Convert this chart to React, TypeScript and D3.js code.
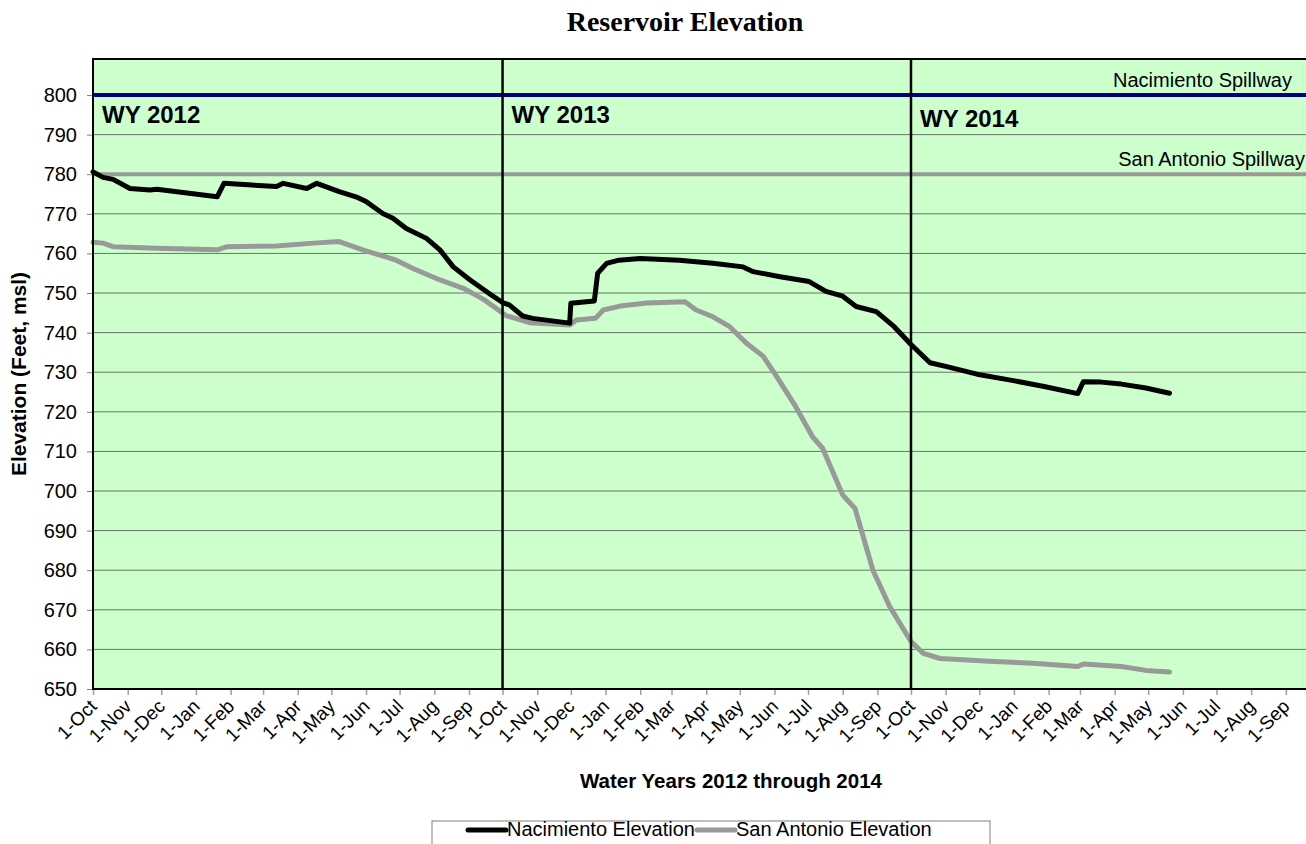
import * as d3 from "d3";
import { useEffect, useRef } from "react";

const nacDates = [
  "2011-10-01", "2011-10-10", "2011-10-19", "2011-11-03", "2011-11-21", "2011-11-27",
  "2012-01-20", "2012-01-26", "2012-03-13", "2012-03-19", "2012-04-09", "2012-04-18",
  "2012-05-08", "2012-05-23", "2012-06-01", "2012-06-16", "2012-06-25", "2012-07-07",
  "2012-07-25", "2012-08-06", "2012-08-18", "2012-09-02", "2012-09-20", "2012-10-01",
  "2012-10-07", "2012-10-19", "2012-10-28", "2012-11-30", "2012-12-01", "2012-12-22",
  "2012-12-25", "2013-01-02", "2013-01-13", "2013-02-01", "2013-03-08", "2013-04-07",
  "2013-05-04", "2013-05-13", "2013-06-06", "2013-07-02", "2013-07-17", "2013-08-01",
  "2013-08-13", "2013-08-31", "2013-09-16", "2013-10-01", "2013-10-18", "2013-11-02",
  "2013-11-29", "2013-12-29", "2014-01-28", "2014-02-27", "2014-03-04", "2014-03-20",
  "2014-04-07", "2014-04-29", "2014-05-20"
];
const nacValues = [
  780.6, 779.2, 778.7, 776.4, 776.0, 776.2,
  774.3, 777.7, 776.9, 777.7, 776.4, 777.7,
  775.6, 774.3, 773.1, 770.1, 768.9, 766.3,
  763.8, 760.9, 756.6, 753.3, 749.7, 747.6,
  747.0, 744.2, 743.6, 742.4, 747.4, 748.0,
  755.0, 757.5, 758.3, 758.7, 758.3, 757.5,
  756.6, 755.4, 754.1, 752.9, 750.4, 749.2,
  746.6, 745.3, 741.5, 737.0, 732.4, 731.4,
  729.5, 728.0, 726.4, 724.6, 727.6, 727.5,
  727.0, 726.0, 724.7
];

const saDates = [
  "2011-10-01", "2011-10-10", "2011-10-19", "2011-11-27", "2012-01-20", "2012-01-29",
  "2012-03-13", "2012-04-15", "2012-05-08", "2012-05-29", "2012-06-28", "2012-07-13",
  "2012-08-06", "2012-08-27", "2012-09-14", "2012-09-23", "2012-10-04", "2012-10-25",
  "2012-11-30", "2012-12-06", "2012-12-23", "2012-12-30", "2013-01-14", "2013-02-07",
  "2013-03-13", "2013-03-23", "2013-04-07", "2013-04-22", "2013-05-07", "2013-05-22",
  "2013-06-03", "2013-06-20", "2013-07-05", "2013-07-14", "2013-08-01", "2013-08-12",
  "2013-08-28", "2013-09-12", "2013-10-01", "2013-10-12", "2013-10-27", "2013-12-10",
  "2014-01-18", "2014-02-27", "2014-03-04", "2014-04-07", "2014-04-29", "2014-05-20"
];
const saValues = [
  762.8, 762.6, 761.7, 761.3, 760.9, 761.7,
  761.9, 762.6, 763.0, 760.9, 758.3, 756.2,
  753.3, 751.2, 748.4, 746.6, 744.3, 742.5,
  741.9, 743.2, 743.6, 745.7, 746.7, 747.5,
  747.8, 745.7, 744.0, 741.5, 737.3, 734.0,
  728.9, 721.3, 713.7, 710.8, 699.0, 695.6,
  680.0, 670.8, 662.0, 659.0, 657.7, 657.0,
  656.5, 655.7, 656.3, 655.7, 654.7, 654.3
];

const yTicks = [650, 660, 670, 680, 690, 700, 710, 720, 730, 740, 750, 760, 770, 780, 790, 800];
const waterYears = ["WY 2012", "WY 2013", "WY 2014"];
const yearStarts = ["2011-10-01", "2012-10-01", "2013-10-01"];
const spillways = [
  { name: "Nacimiento Spillway", level: 800, color: "#000080" },
  { name: "San Antonio Spillway", level: 780, color: "#999999" }
];
const seriesNames = ["Nacimiento Elevation", "San Antonio Elevation"];
const seriesColors = ["#000000", "#999999"];

const parse = d3.timeParse("%Y-%m-%d");

const App = () => {
  const chartRef = useRef(null);

  useEffect(() => {
    const svg = d3.select(chartRef.current);
    svg.selectAll("*").remove();

    const margin = { top: 59, left: 93, bottom: 689 };
    const W = 1306;

    const scaleX = d3
      .scaleTime()
      .domain([parse("2011-10-01"), parse("2014-10-01")])
      .range([margin.left, margin.left + 1096 * 1.119]);

    const scaleY = d3.scaleLinear().domain([650, 809.1]).range([margin.bottom, margin.top]);

    const font = "Arial, 'Liberation Sans', sans-serif";

    // plot background
    svg.append("rect")
      .attr("x", margin.left)
      .attr("y", margin.top)
      .attr("width", W - margin.left)
      .attr("height", margin.bottom - margin.top)
      .attr("fill", "#CCFFCC");

    // gridlines
    svg.append("g")
      .selectAll("line")
      .data(yTicks)
      .enter()
      .append("line")
      .attr("x1", margin.left)
      .attr("x2", W)
      .attr("y1", d => scaleY(d))
      .attr("y2", d => scaleY(d))
      .attr("stroke", "#667766")
      .attr("stroke-width", 1);

    // y axis
    const yAxis = d3.axisLeft(scaleY).tickValues(yTicks).tickSize(6).tickPadding(10);
    const gy = svg.append("g")
      .attr("transform", `translate(${margin.left}, 0)`)
      .call(yAxis);
    gy.select(".domain").remove();
    gy.selectAll("line").attr("stroke", "#808080");
    gy.selectAll("text")
      .style("font-family", font)
      .style("font-size", "20px")
      .attr("fill", "#000");

    // x axis
    const xTicks = d3.timeMonth.range(parse("2011-10-01"), parse("2014-10-01"));
    const xAxis = d3.axisBottom(scaleX)
      .tickValues(xTicks)
      .tickSize(6)
      .tickFormat(d3.timeFormat("1-%b"));
    const gx = svg.append("g")
      .attr("transform", `translate(0, ${margin.bottom})`)
      .call(xAxis);
    gx.select(".domain").remove();
    gx.selectAll("line").attr("stroke", "#a0a0a0").attr("stroke-width", 1.5);
    gx.selectAll("text")
      .style("font-family", font)
      .style("font-size", "19px")
      .attr("fill", "#000")
      .style("text-anchor", "end")
      .attr("x", -10)
      .attr("y", 3)
      .attr("dx", 0)
      .attr("dy", "0.7em")
      .attr("transform", "rotate(-45)");

    // spillway lines
    spillways.forEach(s => {
      svg.append("line")
        .attr("x1", margin.left)
        .attr("x2", W)
        .attr("y1", scaleY(s.level))
        .attr("y2", scaleY(s.level))
        .attr("stroke", s.color)
        .attr("stroke-width", 4);
    });

    svg.append("text")
      .attr("x", 1292)
      .attr("y", scaleY(800) - 8)
      .attr("text-anchor", "end")
      .style("font-family", font)
      .style("font-size", "20px")
      .text(spillways[0].name);
    svg.append("text")
      .attr("x", 1305)
      .attr("y", scaleY(780) - 8)
      .attr("text-anchor", "end")
      .style("font-family", font)
      .style("font-size", "20px")
      .text(spillways[1].name);

    // data lines
    const line = d3.line<[Date, number]>()
      .x(d => scaleX(d[0]))
      .y(d => scaleY(d[1]));

    const series = [
      nacDates.map((d, i) => [parse(d), nacValues[i]] as [Date, number]),
      saDates.map((d, i) => [parse(d), saValues[i]] as [Date, number])
    ];

    [1, 0].forEach(i => {
      svg.append("path")
        .datum(series[i])
        .attr("d", line)
        .attr("fill", "none")
        .attr("stroke", seriesColors[i])
        .attr("stroke-width", 5)
        .attr("stroke-linejoin", "round")
        .attr("stroke-linecap", "round");
    });

    // water year dividers and labels
    yearStarts.forEach((d, i) => {
      const x = scaleX(parse(d));
      if (i > 0) {
        svg.append("line")
          .attr("x1", x)
          .attr("x2", x)
          .attr("y1", margin.top)
          .attr("y2", margin.bottom)
          .attr("stroke", "#000")
          .attr("stroke-width", 2.5);
      }
      svg.append("text")
        .attr("x", x + 9)
        .attr("y", i === 2 ? 127 : 123)
        .style("font-family", font)
        .style("font-size", "24px")
        .style("font-weight", "bold")
        .text(waterYears[i]);
    });

    // frame
    svg.append("path")
      .attr("d", `M${W},${margin.top}H${margin.left}V${margin.bottom}H${W}`)
      .attr("fill", "none")
      .attr("stroke", "#000")
      .attr("stroke-width", 2);

    // titles
    svg.append("text")
      .attr("x", 685)
      .attr("y", 31)
      .attr("text-anchor", "middle")
      .style("font-family", "'Times New Roman', 'Liberation Serif', serif")
      .style("font-size", "28px")
      .style("font-weight", "bold")
      .text("Reservoir Elevation");

    svg.append("text")
      .attr("x", 731)
      .attr("y", 788)
      .attr("text-anchor", "middle")
      .style("font-family", font)
      .style("font-size", "20.5px")
      .style("font-weight", "bold")
      .text("Water Years 2012 through 2014");

    svg.append("text")
      .attr("transform", `translate(26, ${(margin.top + margin.bottom) / 2}) rotate(-90)`)
      .attr("text-anchor", "middle")
      .style("font-family", font)
      .style("font-size", "21px")
      .style("font-weight", "bold")
      .text("Elevation (Feet, msl)");

    // legend
    svg.append("rect")
      .attr("x", 432)
      .attr("y", 821)
      .attr("width", 558)
      .attr("height", 40)
      .attr("fill", "#fff")
      .attr("stroke", "#808080")
      .attr("stroke-width", 1);

    const legendX = [468, 697];
    seriesNames.forEach((name, i) => {
      svg.append("line")
        .attr("x1", legendX[i])
        .attr("x2", legendX[i] + 38)
        .attr("y1", 830)
        .attr("y2", 830)
        .attr("stroke", seriesColors[i])
        .attr("stroke-width", 5)
        .attr("stroke-linecap", "round");
      svg.append("text")
        .attr("x", legendX[i] + 39)
        .attr("y", 836)
        .style("font-family", font)
        .style("font-size", "20px")
        .text(name);
    });
  }, []);

  return (
    <svg
      ref={chartRef}
      width={1306}
      height={844}
      style={{ position: "absolute", left: 0, top: 0, background: "#fff" }}
    ></svg>
  );
};

export default App;
